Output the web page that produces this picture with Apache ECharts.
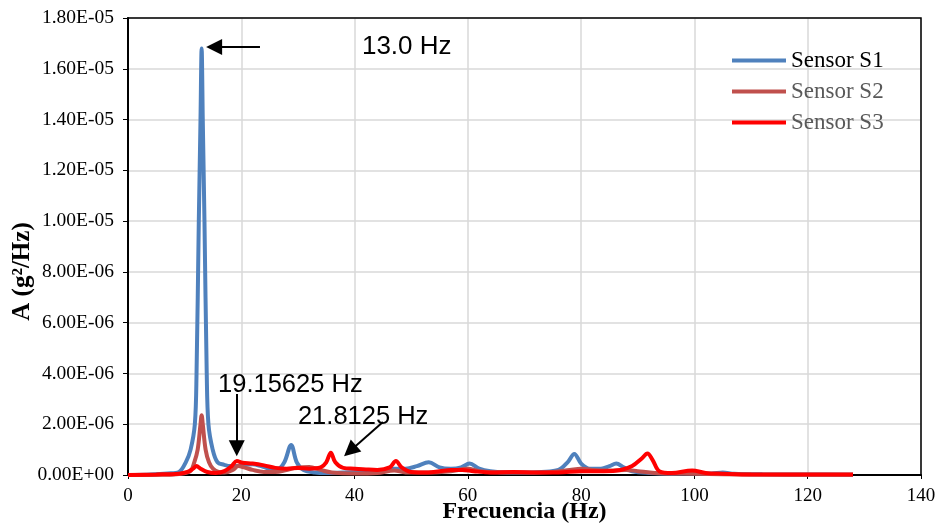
<!DOCTYPE html>
<html>
<head>
<meta charset="utf-8">
<script src="https://cdn.jsdelivr.net/npm/echarts@6/dist/echarts.min.js"></script>
<style>
  html, body { margin: 0; padding: 0; background: #fff; }
  #chart { width: 942px; height: 524px; }
</style>
</head>
<body>
<div id="chart"></div>
<script>
// values, amplitude in units of 1E-06 g^2/Hz
var freqS1 = [0, 4, 7, 9, 10.2, 11.05, 11.8, 12.1, 12.5, 12.8, 13.0, 13.2, 13.5, 13.9, 14.2, 14.95, 15.8, 17, 18, 19.2, 20.5, 22, 23.5, 25, 26.5, 27.6, 28.8, 29.8, 31, 33, 35, 38, 41, 44, 47, 49, 51, 53.1, 55, 57, 58.8, 60.3, 62, 64, 67, 70, 73, 76, 77.6, 78.8, 80, 81.5, 83.5, 85, 86.2, 87.5, 89, 92, 96, 100, 103, 105, 107, 112, 120, 128];
var valS1  = [0, 0.02, 0.06, 0.12, 0.5, 1.0, 2.0, 4.0, 10, 14, 16.8, 14, 10, 4.0, 2.0, 1.0, 0.5, 0.4, 0.35, 0.35, 0.4, 0.42, 0.35, 0.25, 0.25, 0.5, 1.18, 0.5, 0.2, 0.1, 0.08, 0.1, 0.12, 0.15, 0.25, 0.25, 0.35, 0.5, 0.3, 0.25, 0.3, 0.45, 0.25, 0.15, 0.1, 0.1, 0.12, 0.2, 0.5, 0.83, 0.45, 0.25, 0.25, 0.35, 0.45, 0.3, 0.15, 0.08, 0.05, 0.06, 0.06, 0.1, 0.05, 0.03, 0.02, 0.01];

var freqS2 = [0, 6, 9, 11, 11.7, 12.3, 12.8, 13.0, 13.2, 13.7, 14.3, 15, 16, 17, 18.5, 19.5, 20.5, 22, 24, 26, 28, 30, 32, 34, 36, 40, 44, 47, 49, 53, 57, 60, 62, 66, 70, 75, 78, 80, 82, 85, 88, 90, 93, 100, 110, 128];
var valS2  = [0, 0.01, 0.04, 0.15, 0.5, 1.0, 2.0, 2.35, 2.0, 1.0, 0.5, 0.25, 0.12, 0.1, 0.2, 0.35, 0.3, 0.2, 0.12, 0.12, 0.2, 0.3, 0.32, 0.2, 0.1, 0.06, 0.08, 0.18, 0.1, 0.1, 0.15, 0.25, 0.15, 0.1, 0.1, 0.12, 0.2, 0.25, 0.2, 0.18, 0.2, 0.15, 0.08, 0.05, 0.02, 0.01];

var freqS3 = [0, 5, 9, 10.5, 11.5, 12.1, 12.8, 14, 15.5, 17, 18.3, 19.2, 20.2, 22, 24, 26, 28, 30, 32, 34, 35, 35.8, 36.6, 38, 40, 42, 44, 46.2, 47.3, 48.3, 50, 53, 55, 57, 59, 61, 64, 68, 72, 76, 80, 84, 87, 89, 90.7, 91.7, 92.6, 93.8, 96, 99.6, 102, 105, 110, 120, 128];
var valS3  = [0, 0.02, 0.05, 0.12, 0.25, 0.35, 0.25, 0.12, 0.08, 0.15, 0.35, 0.55, 0.48, 0.45, 0.38, 0.28, 0.25, 0.28, 0.25, 0.3, 0.5, 0.88, 0.5, 0.28, 0.25, 0.22, 0.2, 0.3, 0.55, 0.3, 0.12, 0.1, 0.15, 0.2, 0.2, 0.15, 0.1, 0.12, 0.1, 0.1, 0.15, 0.15, 0.2, 0.35, 0.65, 0.85, 0.6, 0.15, 0.08, 0.18, 0.08, 0.05, 0.02, 0.02, 0.02];

var seriesNames = ['Sensor S1', 'Sensor S2', 'Sensor S3'];

// annotation arrows [from, to] and texts, in data units (Hz, 1E-06)
var arrows = [
    [[23.3, 16.86], [15.2, 16.86]],
    [[19.2, 3.19], [19.2, 1.05]],
    [[45.0, 2.09], [39.2, 0.95]]
];
var notes = [
    ['13.0 Hz', 41.3, 16.86, 26],
    ['19.15625 Hz', 15.9, 3.54, 25.5],
    ['21.8125 Hz', 30.0, 2.28, 25.5]
];

var U = 1e-6;

function pairs(f, v) {
    var out = [];
    for (var i = 0; i < f.length; i++) out.push([f[i], v[i] * U]);
    return out;
}

function sci(v) {
    if (Math.abs(v) < 1e-12) return '0.00E+00';
    var e = Math.floor(Math.log10(v) + 1e-9);
    var m = v / Math.pow(10, e);
    return m.toFixed(2) + 'E' + (e < 0 ? '-' : '+') + String(Math.abs(e)).padStart(2, '0');
}

var chart = echarts.init(document.getElementById('chart'));

var lineSeries = function (name, data, color) {
    return {
        name: name,
        type: 'line',
        symbol: 'none',
        smooth: 0.35,
        z: 4,
        data: data,
        lineStyle: { color: color, width: 4 },
        itemStyle: { color: color }
    };
};

var option = {
    backgroundColor: '#fff',
    animation: false,
    grid: {
        left: 128, right: 21, top: 18, bottom: 49,
        outerBoundsMode: 'none',
        containLabel: false,
        z: 3,
        show: true, borderColor: '#000', borderWidth: 1.5
    },
    legend: {
        data: [
            { name: 'Sensor S1', textStyle: { color: '#000' } },
            { name: 'Sensor S2', textStyle: { color: '#595959' } },
            { name: 'Sensor S3', textStyle: { color: '#595959' } }
        ],
        orient: 'vertical',
        left: 732, top: 49,
        padding: 0,
        icon: 'rect',
        itemWidth: 54, itemHeight: 4, itemGap: 8,
        textStyle: { fontFamily: 'Liberation Serif', fontSize: 23 }
    },
    xAxis: {
        type: 'value',
        min: 0, max: 140, interval: 20,
        name: 'Frecuencia (Hz)',
        nameLocation: 'middle',
        nameGap: 25,
        nameMoveOverlap: false,
        nameTextStyle: { fontFamily: 'Liberation Serif', fontSize: 24, fontWeight: 'bold', color: '#000' },
        axisLine: { lineStyle: { color: '#000', width: 2 } },
        axisTick: { show: true, length: 4, lineStyle: { color: '#000' } },
        axisLabel: {
            fontFamily: 'Liberation Serif', fontSize: 19, color: '#000', margin: 12
        },
        splitLine: { show: true, lineStyle: { color: '#d9d9d9', width: 1.5 } }
    },
    yAxis: {
        type: 'value',
        min: 0, max: 18 * U, interval: 2 * U,
        name: 'A (g²/Hz)',
        nameLocation: 'middle',
        nameGap: 93,
        nameMoveOverlap: false,
        nameTextStyle: {
            fontFamily: 'Liberation Serif', fontSize: 25, fontWeight: 'bold', color: '#000',
            padding: [0, 50, 0, 0]
        },
        axisLine: { show: true, lineStyle: { color: '#000', width: 2 } },
        axisTick: { show: true, length: 5, lineStyle: { color: '#000' } },
        axisLabel: {
            fontFamily: 'Liberation Serif', fontSize: 19.5, color: '#000', margin: 14,
            formatter: sci
        },
        splitLine: { show: true, lineStyle: { color: '#d9d9d9', width: 1.5 } }
    },
    series: [
        lineSeries(seriesNames[0], pairs(freqS1, valS1), '#4f81bd'),
        lineSeries(seriesNames[1], pairs(freqS2, valS2), '#c0504d'),
        lineSeries(seriesNames[2], pairs(freqS3, valS3), '#ff0000'),
        {
            name: 'notes',
            type: 'line',
            data: [],
            silent: true,
            z: 5,
            markLine: {
                silent: true,
                symbol: ['none', 'triangle'],
                symbolSize: 16,
                label: { show: false },
                lineStyle: { color: '#000', width: 2, type: 'solid' },
                itemStyle: { color: '#000' },
                data: arrows.map(function (a) {
                    return [{ coord: [a[0][0], a[0][1] * U] }, { coord: [a[1][0], a[1][1] * U] }];
                })
            },
            markPoint: {
                silent: true,
                symbolSize: 0,
                data: notes.map(function (n) {
                    return {
                        coord: [n[1], n[2] * U],
                        label: {
                            show: true, position: 'right', distance: 0,
                            formatter: n[0],
                            fontFamily: 'Liberation Sans', fontSize: n[3], color: '#000'
                        }
                    };
                })
            }
        }
    ]
};

chart.setOption(option);
</script>
</body>
</html>
